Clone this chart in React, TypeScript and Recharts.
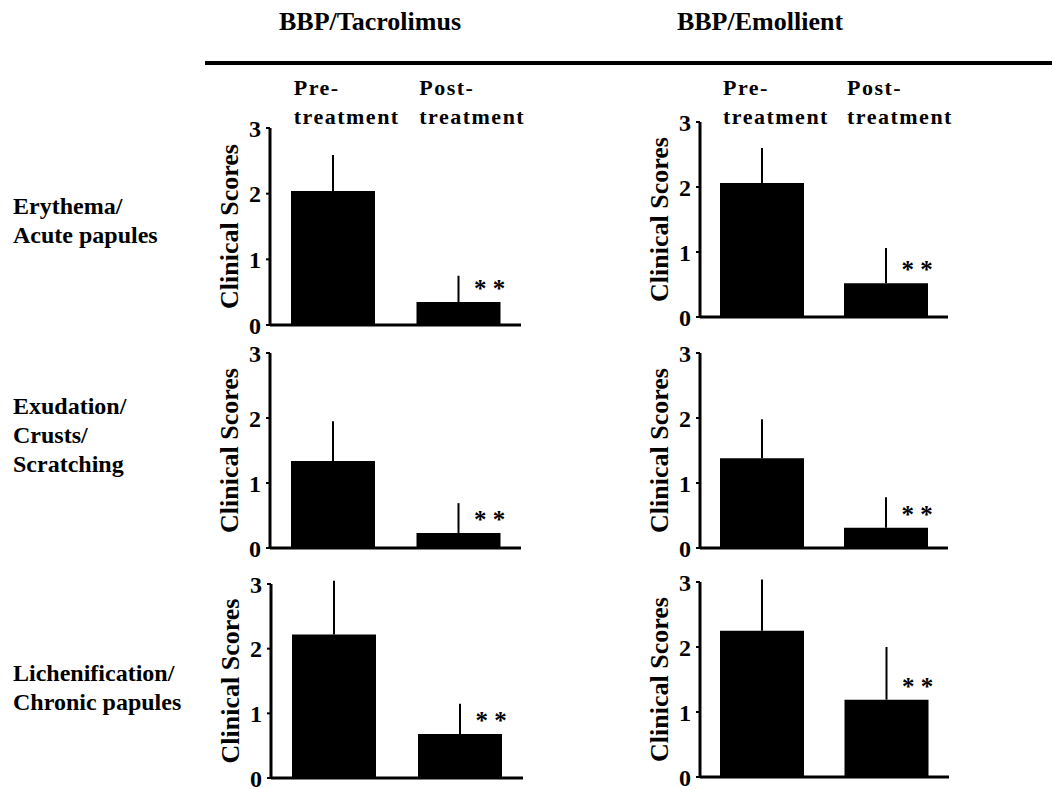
import { Bar, BarChart, ErrorBar, LabelList, XAxis, YAxis } from "recharts";

const SERIF = "'Liberation Serif', 'Times New Roman', serif";

// categories and labels
const categories = ["Pre-treatment", "Post-treatment"];
const categoryLines = [
	["Pre-", "treatment"],
	["Post-", "treatment"],
];
const significance = ["", "**"];
const yTicks = [0, 1, 2, 3];
const groups = ["BBP/Tacrolimus", "BBP/Emollient"];
const rowLabels = [
	["Erythema/", "Acute papules"],
	["Exudation/", "Crusts/", "Scratching"],
	["Lichenification/", "Chronic papules"],
];

// mean clinical scores and upper error
const tacrolimusErythema = [2.04, 0.35];
const tacrolimusErythemaSd = [0.55, 0.4];
const tacrolimusExudation = [1.34, 0.23];
const tacrolimusExudationSd = [0.61, 0.46];
const tacrolimusLichen = [2.22, 0.68];
const tacrolimusLichenSd = [0.83, 0.47];

const emollientErythema = [2.06, 0.52];
const emollientErythemaSd = [0.54, 0.54];
const emollientExudation = [1.38, 0.31];
const emollientExudationSd = [0.6, 0.47];
const emollientLichen = [2.25, 1.19];
const emollientLichenSd = [0.79, 0.81];

const AXIS_W = 90;
const TOP = 60;
const BOTTOM = 15;
const RIGHT = 12;
const CAT_BASELINES = [95, 124];

interface PanelProps {
	means: number[];
	sds: number[];
	left: number;
	right: number;
	top: number;
	bottom: number;
	showCategories?: boolean;
}

function Panel({ means, sds, left, right, top, bottom, showCategories }: PanelProps) {
	const data = categories.map((name, i) => ({
		name,
		mean: means[i],
		err: [0, sds[i]],
		sig: significance[i],
	}));
	const plotW = right - left;
	const plotH = bottom - top;
	const chartTop = top - TOP;

	const renderCategory = (props: any) => {
		const { x, payload } = props;
		const idx = categories.indexOf(payload.value);
		const lines = categoryLines[idx] ?? [];
		return (
			<g>
				{lines.map((line, k) => (
					<text
						key={k}
						x={x - 42 + 3}
						y={CAT_BASELINES[k] - chartTop}
						textAnchor="start"
						fontFamily={SERIF}
						fontWeight={700}
						fontSize={22}
						fill="#000"
						style={{ letterSpacing: 1.5 }}
					>
						{line}
					</text>
				))}
			</g>
		);
	};

	const renderSig = (props: any) => {
		const { x, y, width, value } = props;
		if (!value) return null;
		return (
			<text
				x={Number(x) + Number(width) - 11}
				y={Number(y) - 5}
				textAnchor="middle"
				fontFamily={SERIF}
				fontWeight={700}
				fontSize={25}
				fill="#000"
			>
				* *
			</text>
		);
	};

	const renderYLabel = () => {
		const cx = AXIS_W - 41;
		const cy = TOP + plotH / 2;
		return (
			<text
				x={cx}
				y={cy}
				transform={`rotate(-90 ${cx} ${cy})`}
				textAnchor="middle"
				dominantBaseline="central"
				fontFamily={SERIF}
				fontWeight={700}
				fontSize={26}
				fill="#000"
			>
				Clinical Scores
			</text>
		);
	};

	return (
		<div style={{ position: "absolute", left: left - AXIS_W, top: chartTop }}>
			<BarChart
				width={AXIS_W + plotW + RIGHT}
				height={TOP + plotH + BOTTOM}
				data={data}
				margin={{ top: showCategories ? 10 : TOP, right: RIGHT, bottom: BOTTOM - 1, left: 0 }}
			>
				{showCategories && (
					<XAxis
						xAxisId="cat"
						orientation="top"
						dataKey="name"
						height={TOP - 10}
						axisLine={false}
						tickLine={false}
						interval={0}
						tick={renderCategory}
					/>
				)}
				<XAxis
					xAxisId="main"
					dataKey="name"
					height={1}
					tick={false}
					tickLine={false}
					axisLine={{ stroke: "#000", strokeWidth: 3 }}
				/>
				<YAxis
					width={AXIS_W}
					domain={[0, 3]}
					ticks={yTicks}
					allowDataOverflow
					interval={0}
					tickSize={4}
					tickMargin={5}
					tickLine={{ stroke: "#000", strokeWidth: 2 }}
					axisLine={{ stroke: "#000", strokeWidth: 3 }}
					tick={{ fill: "#000", fontFamily: SERIF, fontWeight: 700, fontSize: 24 }}
					label={{ content: renderYLabel }}
				/>
				<Bar xAxisId="main" dataKey="mean" fill="#000" barSize={84} isAnimationActive={false}>
					<ErrorBar dataKey="err" width={0} stroke="#000" strokeWidth={2} direction="y" />
					<LabelList dataKey="sig" content={renderSig} />
				</Bar>
			</BarChart>
		</div>
	);
}

const textStyle = {
	position: "absolute" as const,
	fontFamily: SERIF,
	fontWeight: 700,
	color: "#000",
	whiteSpace: "nowrap" as const,
};

export default function App() {
	return (
		<div
			style={{
				position: "absolute",
				left: 0,
				top: 0,
				width: 1052,
				height: 790,
				background: "#fff",
				overflow: "hidden",
			}}
		>
			{/* group headers */}
			<div style={{ ...textStyle, left: 220, top: 7, width: 300, textAlign: "center", fontSize: 26, lineHeight: "30px" }}>
				{groups[0]}
			</div>
			<div style={{ ...textStyle, left: 610, top: 7, width: 300, textAlign: "center", fontSize: 26, lineHeight: "30px" }}>
				{groups[1]}
			</div>
			<div style={{ position: "absolute", left: 205, top: 61, width: 847, height: 4, background: "#000" }} />

			{/* row labels */}
			{rowLabels.map((lines, r) => (
				<div
					key={r}
					style={{ ...textStyle, left: 13, top: [192, 392, 659][r], fontSize: 24, lineHeight: "29px" }}
				>
					{lines.map((l) => (
						<div key={l}>{l}</div>
					))}
				</div>
			))}

			<Panel means={tacrolimusErythema} sds={tacrolimusErythemaSd} left={270} right={521} top={128} bottom={325} showCategories />
			<Panel means={emollientErythema} sds={emollientErythemaSd} left={700} right={948} top={122} bottom={317} showCategories />
			<Panel means={tacrolimusExudation} sds={tacrolimusExudationSd} left={270} right={521} top={353} bottom={548} />
			<Panel means={emollientExudation} sds={emollientExudationSd} left={700} right={948} top={353} bottom={548} />
			<Panel means={tacrolimusLichen} sds={tacrolimusLichenSd} left={271} right={523} top={584} bottom={778} />
			<Panel means={emollientLichen} sds={emollientLichenSd} left={700} right={949} top={582} bottom={777} />
		</div>
	);
}
